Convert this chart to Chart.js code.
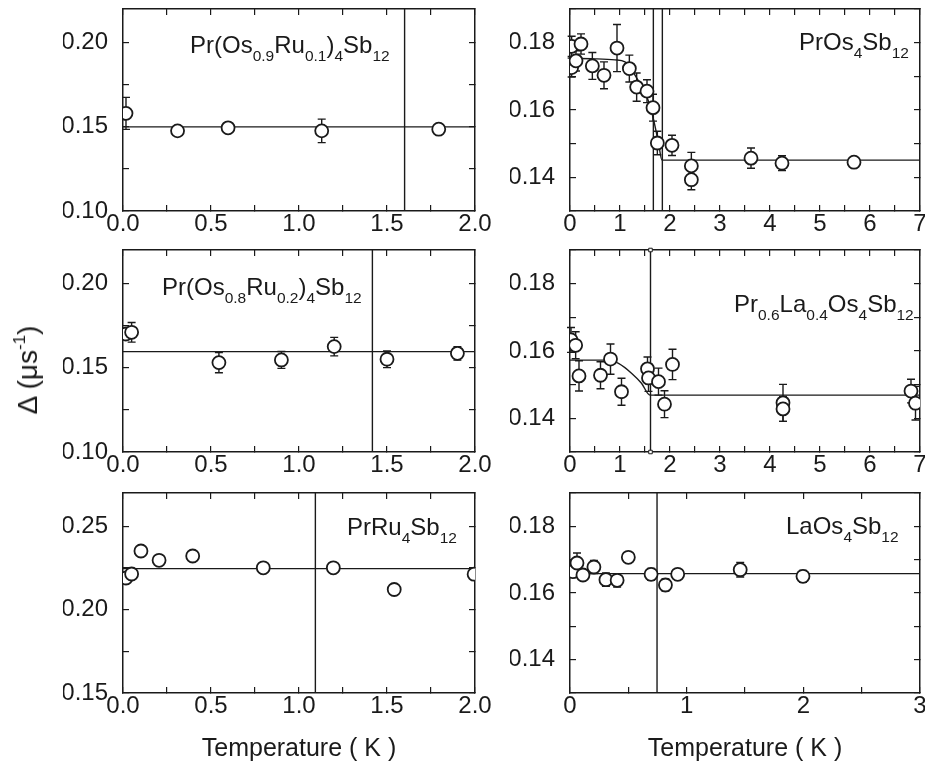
<!DOCTYPE html>
<html>
<head>
<meta charset="utf-8">
<script src="https://cdn.jsdelivr.net/npm/chart.js@4.4.0/dist/chart.umd.min.js"></script>
<style>
body{margin:0;background:#fff;width:925px;height:762px;position:relative;overflow:hidden;
  font-family:'Liberation Sans',Arial,sans-serif;color:#1a1a1a}
canvas{position:absolute;left:0;top:0}
.lbl{position:absolute;font-size:24px;line-height:24px;white-space:nowrap}
.lbl sub{font-size:15.5px;vertical-align:baseline;position:relative;top:8px}
.lbl sup{font-size:17px;vertical-align:baseline;position:relative;top:-12px}
.ytitle{font-size:28px;line-height:28px;left:30px;top:370px;transform:translate(-50%,-50%) rotate(-90deg)}
.xtitle{font-size:25px;line-height:25px;transform:translateX(-50%)}
</style>
</head>
<body>
<canvas id="c1" width="925" height="762"></canvas>
<canvas id="c2" width="925" height="762"></canvas>
<canvas id="c3" width="925" height="762"></canvas>
<canvas id="c4" width="925" height="762"></canvas>
<canvas id="c5" width="925" height="762"></canvas>
<canvas id="c6" width="925" height="762"></canvas>

<div class="lbl" style="left:190px;top:33px">Pr(Os<sub>0.9</sub>Ru<sub>0.1</sub>)<sub>4</sub>Sb<sub>12</sub></div>
<div class="lbl" style="left:799px;top:30px">PrOs<sub>4</sub>Sb<sub>12</sub></div>
<div class="lbl" style="left:162px;top:275px">Pr(Os<sub>0.8</sub>Ru<sub>0.2</sub>)<sub>4</sub>Sb<sub>12</sub></div>
<div class="lbl" style="left:734px;top:292px">Pr<sub>0.6</sub>La<sub>0.4</sub>Os<sub>4</sub>Sb<sub>12</sub></div>
<div class="lbl" style="left:347px;top:515px">PrRu<sub>4</sub>Sb<sub>12</sub></div>
<div class="lbl" style="left:786px;top:514px">LaOs<sub>4</sub>Sb<sub>12</sub></div>
<div class="lbl ytitle">Δ (μs<sup>-1</sup>)</div>
<div class="lbl xtitle" style="left:299px;top:735px">Temperature ( K )</div>
<div class="lbl xtitle" style="left:745px;top:735px">Temperature ( K )</div>

<script>
// ---- tick positions / labels ----
const xTicks2K = [0, 0.25, 0.5, 0.75, 1, 1.25, 1.5, 1.75, 2];
const xLabels2K = ['0.0', '', '0.5', '', '1.0', '', '1.5', '', '2.0'];
const xTicks7K = [0, 0.5, 1, 1.5, 2, 2.5, 3, 3.5, 4, 4.5, 5, 5.5, 6, 6.5, 7];
const xLabels7K = ['0', '', '1', '', '2', '', '3', '', '4', '', '5', '', '6', '', '7'];
const xTicks3K = [0, 0.5, 1, 1.5, 2, 2.5, 3];
const xLabels3K = ['0', '', '1', '', '2', '', '3'];
const yTicksA = [0.10, 0.125, 0.15, 0.175, 0.20];
const yLabelsA = ['0.10', '', '0.15', '', '0.20'];
const yTicksB = [0.13, 0.14, 0.15, 0.16, 0.17, 0.18, 0.19];
const yLabelsB = ['', '0.14', '', '0.16', '', '0.18', ''];
const yTicksC = [0.15, 0.175, 0.20, 0.225, 0.25];
const yLabelsC = ['0.15', '', '0.20', '', '0.25'];

// ---- Pr(Os0.9Ru0.1)4Sb12 ----
const p1T = [0.017, 0.31, 0.597, 1.129, 1.794];
const p1D = [0.158, 0.1476, 0.1494, 0.1476, 0.1486];
const p1E = [0.0095, 0, 0, 0.007, 0];
const p1FitT = [0, 2];
const p1FitD = [0.150, 0.150];
const p1Tc = [1.6];

// ---- PrOs4Sb12 ----
const p2T = [0.033, 0.033, 0.12, 0.22, 0.447, 0.68, 0.94, 1.187, 1.333, 1.54, 1.66, 1.747, 2.04, 2.427, 2.427, 3.62, 4.24, 5.68];
const p2D = [0.1789, 0.1726, 0.1746, 0.1796, 0.1731, 0.1703, 0.1784, 0.1723, 0.1668, 0.1656, 0.1607, 0.1502, 0.1495, 0.1434, 0.1393, 0.1457, 0.1442, 0.1445];
const p2E = [0.003, 0.0028, 0.003, 0.003, 0.004, 0.004, 0.007, 0.004, 0.0042, 0.0034, 0.004, 0.0035, 0.003, 0.004, 0.003, 0.003, 0.0022, 0.001];
const p2FitT = [0, 0.5, 0.9, 1.1, 1.33, 1.57, 1.67, 1.77, 1.84, 7];
const p2FitD = [0.1753, 0.1752, 0.1749, 0.1743, 0.1696, 0.1626, 0.1572, 0.1502, 0.1451, 0.1451];
const p2Tc = [1.667, 1.847];

// ---- Pr(Os0.8Ru0.2)4Sb12 ----
const p3T = [0.017, 0.049, 0.545, 0.90, 1.20, 1.50, 1.90];
const p3D = [0.1701, 0.1711, 0.1531, 0.1547, 0.1626, 0.1551, 0.1586];
const p3E = [0, 0.0058, 0.006, 0.005, 0.0055, 0.005, 0.004];
const p3FitT = [0, 2];
const p3FitD = [0.1596, 0.1596];
const p3Tc = [1.417];

// ---- Pr0.6La0.4Os4Sb12 ----
const p4T = [0.02, 0.113, 0.18, 0.61, 0.81, 1.03, 1.55, 1.57, 1.77, 1.89, 2.05, 4.26, 4.26, 6.82, 6.91];
const p4D = [0.1633, 0.1617, 0.1526, 0.1528, 0.1576, 0.1479, 0.1547, 0.152, 0.1509, 0.1442, 0.156, 0.1446, 0.1428, 0.1481, 0.1445];
const p4E = [0.0037, 0.004, 0.0045, 0.004, 0.0045, 0.004, 0.0035, 0.004, 0.004, 0.004, 0.0045, 0.0055, 0.0037, 0.0035, 0.005];
const p4FitT = [0, 0.77, 0.97, 1.23, 1.43, 1.6, 7];
const p4FitD = [0.1573, 0.1573, 0.1563, 0.1534, 0.1504, 0.1469, 0.1469];
const p4Tc = [1.61];

// ---- PrRu4Sb12 ----
const p5T = [0.017, 0.049, 0.102, 0.205, 0.396, 0.797, 1.195, 1.541, 1.995];
const p5D = [0.219, 0.2214, 0.2352, 0.2296, 0.2322, 0.2251, 0.2251, 0.2121, 0.2213];
const p5E = [0, 0, 0.0025, 0.002, 0.0025, 0.002, 0, 0, 0];
const p5FitT = [0, 2];
const p5FitD = [0.2246, 0.2246];
const p5Tc = [1.093];

// ---- LaOs4Sb12 ----
const p6T = [0.023, 0.06, 0.111, 0.205, 0.308, 0.404, 0.50, 0.695, 0.818, 0.923, 1.459, 1.997];
const p6D = [0.1664, 0.169, 0.1654, 0.1678, 0.164, 0.1638, 0.1707, 0.1656, 0.1624, 0.1656, 0.167, 0.165];
const p6E = [0, 0.003, 0, 0.002, 0.002, 0.002, 0, 0.0018, 0.0018, 0, 0.0022, 0.0018];
const p6FitT = [0, 3];
const p6FitD = [0.1658, 0.1658];
const p6Tc = [0.746];

Chart.defaults.font.family = "'Liberation Sans', Arial, sans-serif";
Chart.defaults.font.size = 24;
Chart.defaults.color = '#1a1a1a';

const INK = '#1a1a1a';

// error bars, drawn under the open circles
const errorBars = {
  id: 'errorBars',
  beforeDatasetsDraw(chart) {
    const ds = chart.data.datasets[0];
    if (!ds.errors) return;
    const meta = chart.getDatasetMeta(0);
    const ys = chart.scales.y;
    const ctx = chart.ctx;
    ctx.save();
    ctx.strokeStyle = INK;
    ctx.lineWidth = 1.4;
    meta.data.forEach((pt, i) => {
      const e = ds.errors[i];
      if (!e) return;
      const top = ys.getPixelForValue(ds.data[i].y + e);
      const bot = ys.getPixelForValue(ds.data[i].y - e);
      ctx.beginPath();
      ctx.moveTo(pt.x, top); ctx.lineTo(pt.x, bot);
      ctx.moveTo(pt.x - 4, top); ctx.lineTo(pt.x + 4, top);
      ctx.moveTo(pt.x - 4, bot); ctx.lineTo(pt.x + 4, bot);
      ctx.stroke();
    });
    ctx.restore();
  }
};

function pts(xs, ys) {
  return xs.map((x, i) => ({x: x, y: ys[i]}));
}

function axis(pos, min, max, ticks, labels, size, pad) {
  const horiz = pos === 'bottom' || pos === 'top';
  return {
    type: 'linear',
    position: pos,
    min: min,
    max: max,
    bounds: 'data',
    afterBuildTicks: s => { s.ticks = ticks.map(v => ({value: v})); },
    afterFit: s => {
      if (horiz) s.height = size; else s.width = size;
      // keep the plot box where it is; labels may hang over the edges
      s.paddingTop = s.paddingBottom = s.paddingLeft = s.paddingRight = 0;
    },
    grid: {drawOnChartArea: false, drawTicks: true, tickLength: -6, color: INK, lineWidth: 1.2},
    border: {display: true, color: INK, width: 1.5},
    ticks: {
      display: labels !== null,
      autoSkip: false,
      maxRotation: 0,
      minRotation: 0,
      padding: pad,
      color: INK,
      callback: (v, i) => labels ? labels[i] : ''
    }
  };
}

function panel(id, area, xr, xt, xl, yr, yt, yl, T, D, E, fitT, fitD, tc, tcMarks) {
  const datasets = [{
    data: pts(T, D),
    errors: E,
    pointRadius: 6.5,
    pointBorderWidth: 1.8,
    pointBackgroundColor: '#fff',
    pointBorderColor: INK,
    showLine: false,
    order: 0
  }, {
    data: pts(fitT, fitD),
    showLine: true,
    pointRadius: 0,
    borderColor: INK,
    borderWidth: 1.4,
    cubicInterpolationMode: 'monotone',
    order: 1
  }];
  tc.forEach(t => {
    datasets.push({
      data: pts([t, t], yr),
      showLine: true,
      borderColor: INK,
      borderWidth: 1.4,
      pointRadius: tcMarks ? 2.5 : 0,
      pointStyle: 'rect',
      pointBackgroundColor: '#fff',
      pointBorderColor: INK,
      pointBorderWidth: 1,
      clip: false,
      order: 2
    });
  });
  return new Chart(document.getElementById(id), {
    type: 'scatter',
    data: {datasets: datasets},
    options: {
      responsive: false,
      animation: false,
      events: [],
      layout: {
        autoPadding: false,
        padding: {left: area[0] - 60, right: 925 - area[1], top: area[2], bottom: 762 - area[3] - 40}
      },
      plugins: {legend: {display: false}, tooltip: {enabled: false}},
      scales: {
        x: axis('bottom', xr[0], xr[1], xt, xl, 40, 5),
        x2: axis('top', xr[0], xr[1], xt, null, 0, 0),
        y: axis('left', yr[0], yr[1], yt, yl, 60, 21),
        y2: axis('right', yr[0], yr[1], yt, null, 0, 0)
      }
    },
    plugins: [errorBars]
  });
}

panel('c1', [123, 475, 9, 211], [0, 2], xTicks2K, xLabels2K, [0.10, 0.22], yTicksA, yLabelsA, p1T, p1D, p1E, p1FitT, p1FitD, p1Tc, false);
panel('c2', [570, 920, 9, 211], [0, 7], xTicks7K, xLabels7K, [0.13, 0.19], yTicksB, yLabelsB, p2T, p2D, p2E, p2FitT, p2FitD, p2Tc, false);
panel('c3', [123, 475, 250, 452], [0, 2], xTicks2K, xLabels2K, [0.10, 0.22], yTicksA, yLabelsA, p3T, p3D, p3E, p3FitT, p3FitD, p3Tc, false);
panel('c4', [570, 920, 250, 452], [0, 7], xTicks7K, xLabels7K, [0.13, 0.19], yTicksB, yLabelsB, p4T, p4D, p4E, p4FitT, p4FitD, p4Tc, true);
panel('c5', [123, 475, 493, 693], [0, 2], xTicks2K, xLabels2K, [0.15, 0.27], yTicksC, yLabelsC, p5T, p5D, p5E, p5FitT, p5FitD, p5Tc, false);
panel('c6', [570, 920, 493, 693], [0, 3], xTicks3K, xLabels3K, [0.13, 0.19], yTicksB, yLabelsB, p6T, p6D, p6E, p6FitT, p6FitD, p6Tc, false);
</script>
</body>
</html>
